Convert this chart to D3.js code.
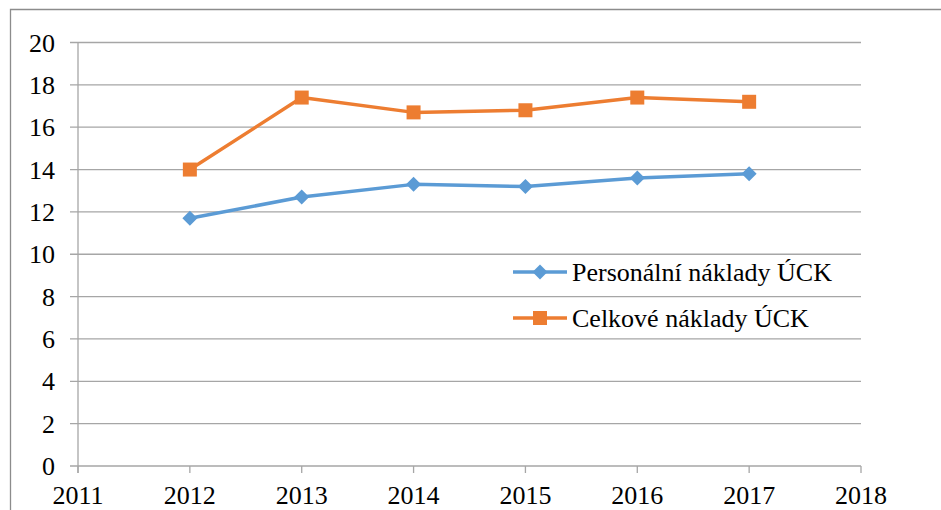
<!DOCTYPE html>
<html><head><meta charset="utf-8">
<script src="https://cdn.jsdelivr.net/npm/d3@7"></script>
<style>body{margin:0;background:#fff}svg{display:block}
.tnr{font-family:"Times New Roman" !important;}
</style>
</head><body>
<svg id="c" width="941" height="510" style="font-family:'Liberation Serif'"></svg>
<script>
const years = [2012, 2013, 2014, 2015, 2016, 2017];
const personalni = [11.7, 12.7, 13.3, 13.2, 13.6, 13.8];
const celkove = [14.0, 17.4, 16.7, 16.8, 17.4, 17.2];
const xTicks = [2011, 2012, 2013, 2014, 2015, 2016, 2017, 2018];
const yTicks = [0, 2, 4, 6, 8, 10, 12, 14, 16, 18, 20];
const seriesNames = ["Personální náklady ÚCK", "Celkové náklady ÚCK"];
const colors = ["#5B9BD5", "#ED7D31"];

const svg = d3.select("#c");
const fs = 26;

// outer border
svg.append("path").attr("d", "M10.5,510 V9.5 H941").attr("fill", "none").attr("stroke", "#8c8c8c").attr("stroke-width", 1.3);

const x = d3.scaleLinear().domain([2011, 2018]).range([78, 861]);
const y = d3.scaleLinear().domain([0, 20]).range([466, 42.5]);
const grid = "#a6a6a6";

svg.append("g").selectAll("line").data(yTicks).join("line")
  .attr("x1", 70).attr("x2", 861).attr("y1", d => y(d)).attr("y2", d => y(d))
  .attr("stroke", grid).attr("stroke-width", 1.3);
svg.append("line").attr("x1", 78).attr("x2", 78).attr("y1", y(20)).attr("y2", 473)
  .attr("stroke", grid).attr("stroke-width", 1.3);
svg.append("g").selectAll("line").data(xTicks).join("line")
  .attr("x1", d => x(d)).attr("x2", d => x(d)).attr("y1", 466).attr("y2", 473)
  .attr("stroke", grid).attr("stroke-width", 1.3);

svg.append("g").selectAll("text").data(yTicks).join("text")
  .attr("x", 55).attr("y", d => y(d) + 9).attr("text-anchor", "end")
  .attr("style", "font-family:'Liberation Serif';font-size:26px").attr("fill", "#000").text(d => d);
svg.append("g").selectAll("text").data(xTicks).join("text")
  .attr("x", d => x(d)).attr("y", 504).attr("text-anchor", "middle").attr("class", "tnr")
  .attr("font-size", fs).attr("fill", "#000").text(d => d);

const line = d3.line().x(d => x(d[0])).y(d => y(d[1]));
const diamond = (cx, cy, r) => `M${cx},${cy - r}L${cx + r},${cy}L${cx},${cy + r}L${cx - r},${cy}Z`;

[personalni, celkove].forEach((vals, i) => {
  const pts = years.map((yr, j) => [yr, vals[j]]);
  svg.append("path").attr("d", line(pts)).attr("fill", "none")
    .attr("stroke", colors[i]).attr("stroke-width", 3.5).attr("stroke-linejoin", "round");
  const g = svg.append("g");
  if (i === 0) {
    g.selectAll("path").data(pts).join("path")
      .attr("d", d => diamond(x(d[0]), y(d[1]), 7.5)).attr("fill", colors[i]);
  } else {
    g.selectAll("rect").data(pts).join("rect")
      .attr("x", d => x(d[0]) - 7).attr("y", d => y(d[1]) - 7)
      .attr("width", 14).attr("height", 14).attr("fill", colors[i]);
  }
});

const legY = [272, 318];
seriesNames.forEach((name, i) => {
  const ly = legY[i];
  svg.append("line").attr("x1", 513).attr("x2", 567).attr("y1", ly).attr("y2", ly)
    .attr("stroke", colors[i]).attr("stroke-width", 3.5);
  if (i === 0) svg.append("path").attr("d", diamond(540, ly, 7.5)).attr("fill", colors[i]);
  else svg.append("rect").attr("x", 533).attr("y", ly - 7).attr("width", 14).attr("height", 14).attr("fill", colors[i]);
  svg.append("text").attr("x", 572).attr("y", ly + 9)
    .attr("font-family", "Times New Roman").attr("font-size", fs).attr("fill", "#000").text(name);
});
</script>
</body></html>
